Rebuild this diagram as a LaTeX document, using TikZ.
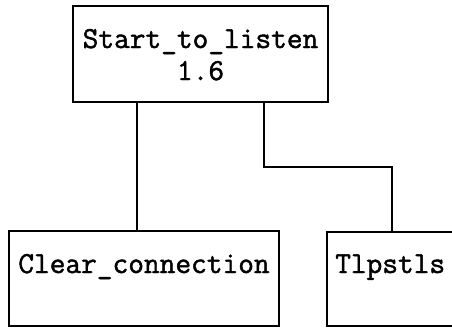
\documentclass[tikz,border=0pt]{standalone}
\usepackage{fontspec}
\newfontfamily\courfont[FakeBold=1.5]{Latin Modern Mono}
\begin{document}
\begin{tikzpicture}[x=1pt,y=-1pt,
  box/.style={draw,line width=1.8pt,rectangle,inner sep=0pt},
  lbl/.style={font=\courfont\fontsize{30.5}{32}\selectfont,inner sep=0pt,align=center},
  wire/.style={line width=1.8pt}]
\useasboundingbox (0,0) rectangle (452,327);
\begin{scope}
\clip (0,0) rectangle (452,327);
\node[box,minimum width=255pt,minimum height=96pt] (top) at (200.5,54) {};
\node[box,minimum width=270pt,minimum height=95pt] (clear) at (144,278.5) {};
\node[box,minimum width=130pt,minimum height=94pt] (tlp) at (392,279) {};
\node[lbl,anchor=base] (t1) at (200.5,48) {Start\_to\_listen};
\node[lbl,anchor=base] (t2) at (200.5,80) {1.6};
\node[lbl,anchor=base] (c1) at (144,273) {Clear\_connection};
\node[lbl,anchor=base west] (p1) at (335,273) {Tlpstls};
\coordinate (lx) at (137,0);
\coordinate (rx) at (264,0);
\coordinate (ry) at (0,167);
\draw[wire] (top.south -| lx) -- (clear.north -| lx);
\draw[wire] (top.south -| rx) -- (rx |- ry) -| (tlp.north);
\end{scope}
\end{tikzpicture}
\end{document}
